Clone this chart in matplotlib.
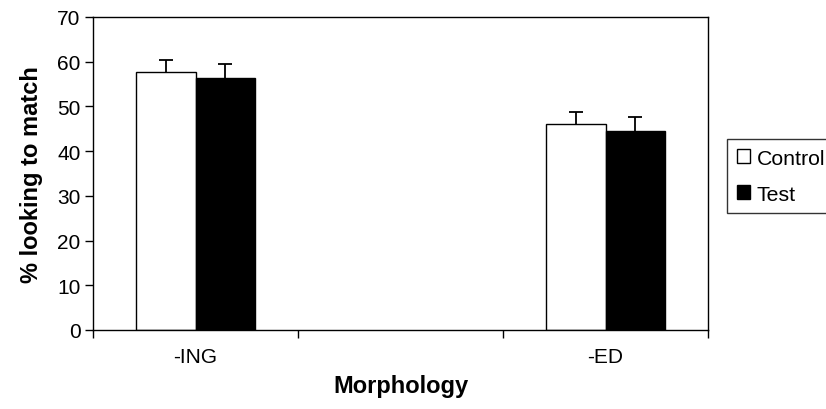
import numpy as np
import matplotlib
matplotlib.use("Agg")
import matplotlib.pyplot as plt
from matplotlib.patches import Patch

plt.rcParams['font.family'] = ['Liberation Sans', 'DejaVu Sans']

categories = ["-ING", "", "-ED"]
series_names = ["Control", "Test"]
control = [57.6, np.nan, 46.1]
test = [56.3, np.nan, 44.4]
control_err = [2.7, np.nan, 2.7]
test_err = [3.2, np.nan, 3.2]
yticks = [0, 10, 20, 30, 40, 50, 60, 70]

fig = plt.figure(figsize=(8.26, 4.10), dpi=100)
ax = fig.add_axes([93/826, 1-331/410, (708-93)/826, (331-18)/410])

x = np.arange(len(categories))
w = 0.29
c = np.array(control, dtype=float)
t = np.array(test, dtype=float)
ce = np.array(control_err, dtype=float)
te = np.array(test_err, dtype=float)

ax.bar(x - w/2, c, width=w, color='white', edgecolor='black', linewidth=1.0, zorder=2)
ax.bar(x + w/2, t, width=w, color='black', edgecolor='black', linewidth=1.0, zorder=2)
for xs, vals, errs in ((x - w/2, c, ce), (x + w/2, t, te)):
    _, caps, _ = ax.errorbar(xs, vals, yerr=[np.zeros_like(errs), errs], fmt='none',
                             ecolor='black', elinewidth=1.3, capsize=4.7, capthick=1.3,
                             zorder=1)
    caps[0].remove()

ax.set_xlim(-0.5, len(categories) - 0.5)
ax.set_ylim(yticks[0], yticks[-1])
ax.set_yticks(yticks)
ax.set_xticks(x)
ax.set_xticklabels(categories)
ax.set_xticks(np.arange(-0.5, len(categories)), minor=True)
ax.tick_params(axis='x', which='major', length=0, pad=12, labelsize=15)
ax.tick_params(axis='x', which='minor', length=6, width=1.0, direction='out')
ax.tick_params(axis='y', length=6, width=1.0, direction='out', labelsize=15, pad=3)

for s in ax.spines.values():
    s.set_linewidth(1.0)
    s.set_color('black')

ax.set_ylabel("% looking to match", fontsize=17, fontweight='bold', labelpad=10)
ax.set_xlabel("Morphology", fontsize=17, fontweight='bold', labelpad=6)

handles = [Patch(facecolor='white', edgecolor='black', linewidth=1.0),
           Patch(facecolor='black', edgecolor='black', linewidth=1.0)]
leg = fig.legend(handles, series_names, loc='upper left',
                 bbox_to_anchor=(727/826, 1-140/410), frameon=True, fancybox=False,
                 edgecolor='black', fontsize=15.3, handlelength=0.65, handleheight=0.65,
                 handletextpad=0.3, borderpad=0.45, labelspacing=0.8, borderaxespad=0)
leg.get_frame().set_linewidth(1.0)

fig.savefig("out.png", dpi=100)
